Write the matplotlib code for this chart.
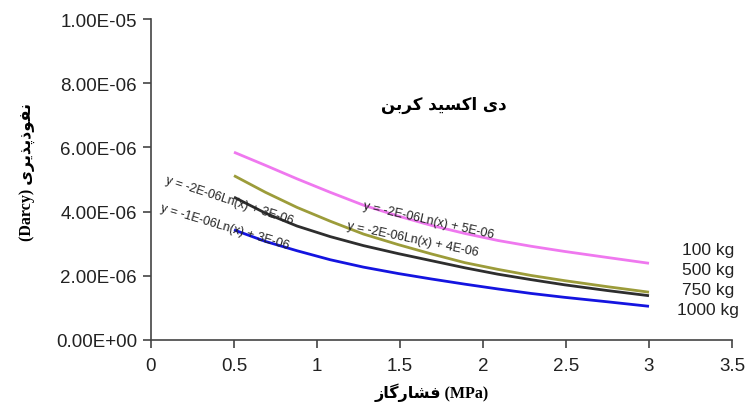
import numpy as np
import matplotlib
matplotlib.use("Agg")
import matplotlib.pyplot as plt

# values (permeability in Darcy vs gas pressure in MPa)
pressure = [0.5, 0.69, 0.88, 1.08, 1.28, 1.49, 1.69, 1.89, 2.09, 2.29, 2.49, 2.75, 3.0]
perm_100 = [5.85e-6, 5.44e-6, 5.02e-6, 4.60e-6, 4.20e-6, 3.86e-6, 3.57e-6, 3.32e-6,
            3.10e-6, 2.92e-6, 2.76e-6, 2.57e-6, 2.39e-6]
perm_500 = [5.12e-6, 4.60e-6, 4.13e-6, 3.70e-6, 3.30e-6, 2.97e-6, 2.68e-6, 2.41e-6,
            2.20e-6, 2.01e-6, 1.85e-6, 1.66e-6, 1.49e-6]
perm_750 = [4.45e-6, 3.95e-6, 3.55e-6, 3.22e-6, 2.94e-6, 2.69e-6, 2.47e-6, 2.25e-6,
            2.05e-6, 1.88e-6, 1.72e-6, 1.54e-6, 1.38e-6]
perm_1000 = [3.43e-6, 3.07e-6, 2.78e-6, 2.50e-6, 2.27e-6, 2.07e-6, 1.90e-6, 1.74e-6,
             1.59e-6, 1.45e-6, 1.33e-6, 1.19e-6, 1.05e-6]
series_labels = ["100 kg", "500 kg", "750 kg", "1000 kg"]
series_colors = ["#ef78ef", "#9c9c3a", "#2e2e2e", "#1414e0"]
fit_labels = ["y = -2E-06Ln(x) + 3E-06", "y = -1E-06Ln(x) + 3E-06",
              "y = -2E-06Ln(x) + 5E-06", "y = -2E-06Ln(x) + 4E-06"]
yticks = [0, 2e-6, 4e-6, 6e-6, 8e-6, 1e-5]
ytick_labels = ["0.00E+00", "2.00E-06", "4.00E-06", "6.00E-06", "8.00E-06", "1.00E-05"]
xticks = [0, 0.5, 1, 1.5, 2, 2.5, 3, 3.5]
xtick_labels = ["0", "0.5", "1", "1.5", "2", "2.5", "3", "3.5"]

# crude persian shaping: presentation forms (isolated, final, initial, medial)
FORMS = {
    'ا': ('\uFE8D', '\uFE8E', None, None),
    'ب': ('\uFE8F', '\uFE90', '\uFE91', '\uFE92'),
    'د': ('\uFEA9', '\uFEAA', None, None),
    'ذ': ('\uFEAB', '\uFEAC', None, None),
    'ر': ('\uFEAD', '\uFEAE', None, None),
    'ز': ('\uFEAF', '\uFEB0', None, None),
    'س': ('\uFEB1', '\uFEB2', '\uFEB3', '\uFEB4'),
    'ش': ('\uFEB5', '\uFEB6', '\uFEB7', '\uFEB8'),
    'ف': ('\uFED1', '\uFED2', '\uFED3', '\uFED4'),
    'ن': ('\uFEE5', '\uFEE6', '\uFEE7', '\uFEE8'),
    'و': ('\uFEED', '\uFEEE', None, None),
    'ک': ('\uFB8E', '\uFB8F', '\uFB90', '\uFB91'),
    'گ': ('\uFB92', '\uFB93', '\uFB94', '\uFB95'),
    'پ': ('\uFB56', '\uFB57', '\uFB58', '\uFB59'),
    'ی': ('\uFBFC', '\uFBFD', '\uFBFE', '\uFBFF'),
}

def shape(word):
    out = []
    for i, ch in enumerate(word):
        f = FORMS.get(ch)
        if f is None:
            out.append(ch)
            continue
        prev = word[i - 1] if i > 0 else ''
        nxt = word[i + 1] if i + 1 < len(word) else ''
        jp = prev in FORMS and FORMS[prev][2] is not None
        jn = f[2] is not None and nxt in FORMS
        if jp and jn:
            out.append(f[3])
        elif jp:
            out.append(f[1])
        elif jn:
            out.append(f[2])
        else:
            out.append(f[0])
    return ''.join(reversed(out))

plt.rcParams['font.family'] = ['Liberation Sans', 'DejaVu Sans']

fig = plt.figure(figsize=(7.45, 4.14), dpi=100)
ax = fig.add_axes([151 / 745, 1 - 341 / 414, (732 - 151) / 745, (341 - 20) / 414])

for vals, col in zip([perm_100, perm_500, perm_750, perm_1000], series_colors):
    ax.plot(pressure, vals, color=col, lw=2.0, solid_capstyle='butt')

ax.set_xlim(0, 3.5)
ax.set_ylim(0, 1e-5)
ax.set_xticks(xticks)
ax.set_xticklabels(xtick_labels)
ax.set_yticks(yticks)
ax.set_yticklabels(ytick_labels)
ax.tick_params(axis='both', direction='out', length=6, width=1.2, color='#444444',
               labelsize=13.5, labelcolor='#222222')
ax.tick_params(axis='y', pad=4)
ax.tick_params(axis='x', pad=6)
for s in ['top', 'right']:
    ax.spines[s].set_visible(False)
for s in ['left', 'bottom']:
    ax.spines[s].set_color('#444444')
    ax.spines[s].set_linewidth(1.2)

# trend-line equations
fit_pos = [(0.09, 5.0e-6, -18), (0.06, 4.14e-6, -16.6), (1.28, 4.2e-6, -12.7), (1.185, 3.58e-6, -11.7)]
for txt, (x, y, rot) in zip(fit_labels, fit_pos):
    ax.text(x, y, txt, rotation=rot, rotation_mode='anchor', ha='left', va='center',
            fontsize=9, color='#222222')

# series names at the right end
for lab, y in zip(series_labels, [2.81e-6, 2.19e-6, 1.57e-6, 0.94e-6]):
    ax.text(3.355, y, lab, ha='center', va='center', fontsize=12.5, color='#222222', clip_on=False)

ax.text(507 / 745, 1 - 105 / 414, shape("دی اکسید کربن"), transform=fig.transFigure,
        ha='right', va='center', fontsize=12, fontweight='bold', family=['DejaVu Sans'])

fig.text(432 / 745, 1 - 393 / 414, shape("فشارگاز") + " (MPa)", ha='center', va='center',
         fontsize=11.5, fontweight='bold', family=['Liberation Serif', 'DejaVu Sans'])
fig.text(27 / 745, 1 - 172 / 414, "(Darcy) " + shape("نفوذپذیری"), rotation=90,
         ha='center', va='center', fontsize=11.5, fontweight='bold',
         family=['Liberation Serif', 'DejaVu Sans'])

fig.savefig("out.png", dpi=100, facecolor='white')
